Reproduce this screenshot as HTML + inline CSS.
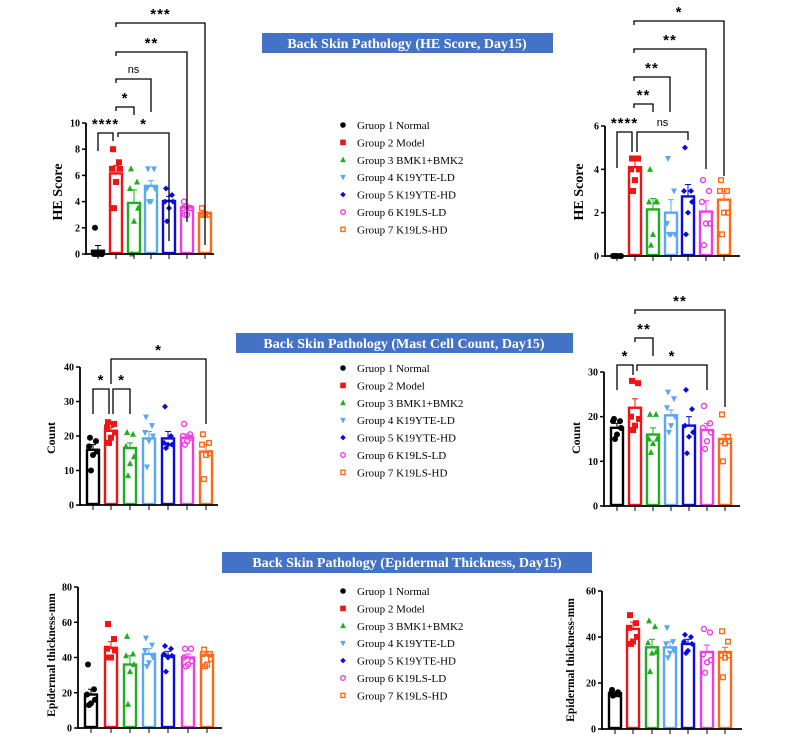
<!DOCTYPE html>
<html><head><meta charset="utf-8"><style>
html,body{margin:0;padding:0;background:#fff;}
svg{display:block;font-family:"Liberation Serif",serif;}
</style></head><body>
<svg id="s" width="800" height="741" viewBox="0 0 800 741" xmlns="http://www.w3.org/2000/svg">
<rect x="262" y="33" width="291" height="20" fill="#4472c4"/>
<text x="407" y="48" fill="#fff" font-size="14" font-weight="bold" text-anchor="middle">Back Skin Pathology (HE Score, Day15)</text>
<rect x="236" y="333" width="337" height="20" fill="#4472c4"/>
<text x="404" y="348" fill="#fff" font-size="14" font-weight="bold" text-anchor="middle">Back Skin Pathology (Mast Cell Count, Day15)</text>
<rect x="222" y="552" width="370" height="21" fill="#4472c4"/>
<text x="407" y="567" fill="#fff" font-size="14" font-weight="bold" text-anchor="middle">Back Skin Pathology (Epidermal Thickness, Day15)</text>
</svg>
<script>
const S=document.getElementById('s');const NS='http://www.w3.org/2000/svg';
function el(t,a,txt){const e=document.createElementNS(NS,t);for(const k in a)e.setAttribute(k,a[k]);if(txt!==undefined)e.textContent=txt;S.appendChild(e);return e;}
const C=['#000','#f01414','#1fae1f','#5aa8f5','#0b0bdc','#f03ce8','#ff6a1a'];
function mk(i,x,y,r){r=r||3;const c=C[i];
 if(i==0)el('circle',{cx:x,cy:y,r:r,fill:c});
 else if(i==1)el('rect',{x:x-r,y:y-r,width:2*r,height:2*r,fill:c});
 else if(i==2)el('polygon',{points:`${x},${y-r-0.5} ${x+r},${y+r-0.5} ${x-r},${y+r-0.5}`,fill:c});
 else if(i==3)el('polygon',{points:`${x},${y+r+0.5} ${x+r},${y-r+0.5} ${x-r},${y-r+0.5}`,fill:c});
 else if(i==4)el('polygon',{points:`${x},${y-r} ${x+r},${y} ${x},${y+r} ${x-r},${y}`,fill:c});
 else if(i==5)el('circle',{cx:x,cy:y,r:r-0.5,fill:'none',stroke:c,'stroke-width':1.4});
 else el('rect',{x:x-r+0.7,y:y-r+0.7,width:2*r-1.4,height:2*r-1.4,fill:'none',stroke:c,'stroke-width':1.4});
}
function chart(o){
 const sy=v=>o.y0-(v/o.max)*(o.y0-o.ytop);
 const bw=12;
 o.cx.forEach((cx,i)=>{
  const m=o.mean[i],e=o.err[i];
  el('line',{x1:cx,y1:sy(m),x2:cx,y2:sy(m+e),stroke:C[i],'stroke-width':1});
  el('line',{x1:cx-3,y1:sy(m+e),x2:cx+3,y2:sy(m+e),stroke:C[i],'stroke-width':1});
  el('rect',{x:cx-bw/2,y:sy(m),width:bw,height:o.y0-sy(m)-1,fill:'none',stroke:C[i],'stroke-width':2.4});
  const js=[-3,3,-4,4,0,-2];
  o.pts[i].forEach((v,k)=>mk(i,cx+js[k],sy(v)));
  el('line',{x1:cx,y1:o.y0,x2:cx,y2:o.y0+5,stroke:'#000','stroke-width':1});
 });
 el('line',{x1:o.x0,y1:o.y0,x2:o.xe,y2:o.y0,stroke:'#000','stroke-width':1.8});
 el('line',{x1:o.x0,y1:o.y0+1,x2:o.x0,y2:o.ytop,stroke:'#000','stroke-width':1.8});
 for(let v=0;v<=o.max;v+=o.step){const y=sy(v);
  el('line',{x1:o.x0-4,y1:y,x2:o.x0,y2:y,stroke:'#000','stroke-width':1.5});
  el('text',{x:o.x0-6,y:y+3.5,'font-size':10,'font-weight':'bold','text-anchor':'end'},v);}
 el('text',{x:0,y:0,'font-size':o.lfs,'font-weight':'bold','text-anchor':'middle',transform:`translate(${o.lx},${o.ly}) rotate(-90)`},o.label);
 (o.br||[]).forEach(b=>{const [xa,xb,y,t,da,db]=b;
  el('polyline',{points:`${xa},${y+da} ${xa},${y} ${xb},${y} ${xb},${y+db}`,fill:'none',stroke:'#000','stroke-width':1.3});
  if(t=='ns')el('text',{x:(xa+xb)/2,y:y-6,'font-size':11,'font-family':'Liberation Sans,sans-serif','text-anchor':'middle'},t);
  else el('text',{x:(xa+xb)/2,y:y-4,'font-size':15,'font-weight':'bold','font-family':'Liberation Sans,sans-serif','text-anchor':'middle','letter-spacing':1},t.replace(/∗/g,'*'));});
}
function legend(y0){const L=['Gruop 1 Normal','Group 2 Model','Group 3 BMK1+BMK2','Group 4 K19YTE-LD','Group 5 K19YTE-HD','Group 6 K19LS-LD','Group 7 K19LS-HD'];
 L.forEach((t,i)=>{const y=y0+i*17.4;mk(i,343,y,2.8);el('text',{x:357,y:y+4,'font-size':11},t);});}
legend(125);legend(368);legend(591);
chart({x0:86,xe:214,y0:254,ytop:123,max:10,step:2,cx:[98,116,134,151,169,187,205],
 mean:[0.25,6.15,3.9,5.2,4.05,3.55,3.1],err:[0.4,0.6,1.0,0.4,0.35,0.2,0.15],
 pts:[[2,0,0,0,0,0],[8,7,6.5,6.5,5.5,3.5],[6.5,5.5,5,3.5,2.5,0],[6.5,6.5,5,5,4,4],[5,4.5,4,4,3.5,2.5],[4,3.5,3.5,3.5,3,3],[3.5,3,3,3,3,3]],
 label:'HE Score',lfs:14,lx:62,ly:192,
 br:[[98,113,133,'∗∗∗∗',18,8],[118,169,133,'∗',4,108],[116,134,107,'∗',4,8],[116,151,79,'ns',4,33],[116,187,52,'∗∗',4,170],[116,205,23,'∗∗∗',4,222]]});
chart({x0:605,xe:740,y0:256,ytop:126,max:6,step:2,cx:[617,635,653,671,688,706,724],
 mean:[0.03,4.1,2.15,2.0,2.75,2.05,2.6],err:[0.05,0.35,0.5,0.6,0.55,0.5,0.4],
 pts:[[0,0,0,0,0,0],[4.5,4.5,4,4,3.5,3],[4,2.5,2.5,2.5,1,0.5],[4.5,3,1.5,1,1,1],[5,3,3,2.5,2,1],[3.5,3,2.5,1.5,1.5,0.5],[3.5,3,3,2,2,1]],
 label:'HE Score',lfs:14,lx:583,ly:192,
 br:[[617,632,132,'∗∗∗∗',36,20],[637,688,132,'ns',20,8],[634,653,104,'∗∗',4,8],[634,670,77,'∗∗',4,35],[634,706,49,'∗∗',4,120],[634,724,21,'∗',4,155]]});
chart({x0:80,xe:218,y0:505,ytop:367,max:40,step:10,cx:[93,111,130,149,168,187,206],
 mean:[16,21.5,16.5,19.3,19.3,19.5,15.5],err:[1.5,1,1.5,2,2,1,2],
 pts:[[19.5,18.5,17,15.5,14.5,10],[24,23.5,22.5,21,19.5,18],[21,20.5,17,14,12,8.5],[25.5,23,21,20,18.5,11],[28.5,20,18,17.5,17.5,16.5],[23.5,20.5,20,19.5,18.5,17.5],[20.5,18,17.5,15,14.5,7.5]],
 label:'Count',lfs:12,lx:55,ly:438,
 br:[[93,109,389,'∗',25,25],[113,130,389,'∗',25,25],[111,206,359,'∗',25,65]]});
chart({x0:604,xe:740,y0:506,ytop:372,max:30,step:10,cx:[617,635,653,671,689,707,725],
 mean:[17.5,22,16,20.3,18,17,15],err:[1,2,1.5,1.2,2,1.5,1],
 pts:[[19.5,19,19,17.5,16,15],[28,27.5,20,19.5,18,17],[20.5,20.5,15,15,14,12],[25.5,24,22,20,18,16.5],[26,21.7,18,16.5,15.5,11.8],[22.4,18.5,17.5,16.5,14.5,12.8],[20.5,15.5,14.5,14.5,14,10]],
 label:'Count',lfs:12,lx:580,ly:438,
 br:[[617,633,365,'∗',25,10],[637,707,365,'∗',6,25],[635,653,338,'∗∗',4,18],[635,725,310,'∗∗',4,97]]});
chart({x0:78,xe:222,y0:728,ytop:587,max:80,step:20,cx:[91,111,130,149,168,188,207],
 mean:[19,45.5,36,42,41,40,41.5],err:[3,3.5,5,3,2.5,2,2],
 pts:[[36,22,19,16,14,13],[59,50.5,45,44,40,40],[52,42,41,36,32,13.5],[51,47,44,40,37,35],[46.5,45,42,41,40,32],[45,45,40,38,36,35],[44.5,42,42,39,36,35]],
 label:'Epidermal thickness-mm',lfs:11.5,lx:55,ly:655});
chart({x0:602,xe:742,y0:729,ytop:591,max:60,step:20,cx:[615,633,652,670,688,707,725],
 mean:[15.5,43.5,35.5,35.5,37,33.5,33.5],err:[0.5,3,3.5,2.5,2,3,2],
 pts:[[17,16,15.5,15,15,14.5],[49.5,46,44,40,38,37],[47,44.5,37.5,33.5,33,25],[44,38,37,34,33,31],[41,40,38,37,34,33],[43.5,42,32.5,30,29,24.5],[42.5,38,32,32,31,22.5]],
 label:'Epidermal thickness-mm',lfs:11.5,lx:574,ly:660});
</script>
</body></html>
